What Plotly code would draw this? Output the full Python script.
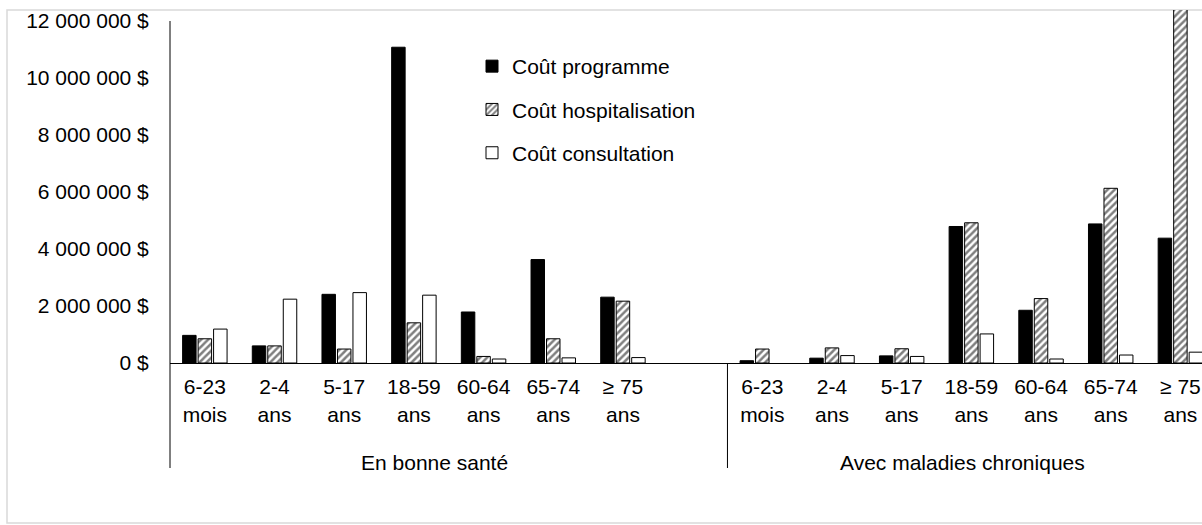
import numpy as np
import plotly.graph_objects as go

# ---- data (values in $) ----
age_labels = ["6-23<br>mois", "2-4<br>ans", "5-17<br>ans", "18-59<br>ans",
              "60-64<br>ans", "65-74<br>ans", "≥ 75<br>ans"]
groups = ["En bonne santé", "Avec maladies chroniques"]
series_names = ["Coût programme", "Coût hospitalisation", "Coût consultation"]

sante_programme = [970000, 600000, 2410000, 11080000, 1790000, 3630000, 2310000]
sante_hospit = [850000, 600000, 490000, 1410000, 230000, 850000, 2170000]
sante_consult = [1190000, 2240000, 2470000, 2380000, 140000, 180000, 190000]

chron_programme = [80000, 170000, 250000, 4790000, 1850000, 4880000, 4380000]
chron_hospit = [490000, 530000, 500000, 4920000, 2260000, 6130000, 13500000]
chron_consult = [None, 260000, 230000, 1020000, 140000, 280000, 380000]

y_ticks = [0, 2000000, 4000000, 6000000, 8000000, 10000000, 12000000]

# ---- layout constants ----
W, H = 1202, 525
ML, MR, MT, MB = 170, 0, 10, 162
PW, PH = W - ML - MR, H - MT - MB
YMAX = 12386000
XR = [-0.5, 14.31]
FONT = "Liberation Sans, Arial, Helvetica, sans-serif"
FS = 21

n = len(age_labels)
x_left = np.arange(n)
x_right = np.arange(n) + n + 1
x_all = np.concatenate([x_left, x_right])

vals = [
    sante_programme + chron_programme,
    sante_hospit + chron_hospit,
    sante_consult + chron_consult,
]

styles = [
    dict(color="black", line=dict(color="black", width=1)),
    dict(color="white", line=dict(color="black", width=1),
         pattern=dict(shape="/", fgcolor="black", bgcolor="white", size=5, solidity=0.5)),
    dict(color="white", line=dict(color="black", width=1)),
]

fig = go.Figure()
for i, (name, v, st) in enumerate(zip(series_names, vals, styles)):
    fig.add_trace(go.Bar(x=x_all, y=v, name=name, marker=st, legendgroup=f"g{i}"))


def px_to_xpaper(px):
    return (px - ML) / PW


def py_to_ypaper(py):
    return (H - MB - py) / PH


def xdata_to_paper(x):
    return (x - XR[0]) / (XR[1] - XR[0])


shapes = [
    # chart-area border
    dict(type="rect", xref="paper", yref="paper",
         x0=px_to_xpaper(7), x1=1.05, y0=py_to_ypaper(523), y1=py_to_ypaper(10),
         line=dict(color="#d9d9d9", width=1.5), layer="below"),
    # y axis line (extended down as group divider)
    dict(type="line", xref="paper", yref="paper",
         x0=0, x1=0, y0=py_to_ypaper(468), y1=12000000 / YMAX,
         line=dict(color="black", width=1)),
    # divider between groups
    dict(type="line", xref="paper", yref="paper",
         x0=xdata_to_paper(n + 0.5), x1=xdata_to_paper(n + 0.5),
         y0=py_to_ypaper(468), y1=0,
         line=dict(color="black", width=1)),
]

annotations = [
    dict(text=groups[0], xref="paper", yref="paper",
         x=xdata_to_paper(3.29), y=py_to_ypaper(462), showarrow=False,
         xanchor="center", yanchor="middle", font=dict(size=FS, color="black", family=FONT)),
    dict(text=groups[1], xref="paper", yref="paper",
         x=xdata_to_paper(10.87), y=py_to_ypaper(462), showarrow=False,
         xanchor="center", yanchor="middle", font=dict(size=FS, color="black", family=FONT)),
]

fig.update_layout(
    width=W, height=H,
    margin=dict(l=ML, r=MR, t=MT, b=MB, pad=0),
    paper_bgcolor="white", plot_bgcolor="white",
    font=dict(family=FONT, size=FS, color="black"),
    barmode="group", bargap=0.333, bargroupgap=0.13,
    showlegend=True,
    legend=dict(x=px_to_xpaper(472), y=py_to_ypaper(46), xanchor="left", yanchor="top",
                bgcolor="rgba(0,0,0,0)", font=dict(size=FS, family=FONT, color="black"),
                tracegroupgap=13, itemwidth=30, traceorder="grouped"),
    shapes=shapes,
    annotations=annotations,
)

fig.update_xaxes(
    range=XR, tickmode="array", tickvals=list(x_all), ticktext=age_labels + age_labels,
    showline=True, linecolor="black", linewidth=1, showgrid=False, zeroline=False,
    ticks="outside", ticklen=5, tickcolor="rgba(0,0,0,0)",
    tickfont=dict(size=FS, family=FONT, color="black"),
)
fig.update_yaxes(
    range=[0, YMAX], tickmode="array", tickvals=y_ticks,
    ticktext=[f"{v:,.0f}".replace(",", " ") + " $" for v in y_ticks],
    showline=False, showgrid=False, zeroline=False,
    ticks="outside", ticklen=16, tickcolor="rgba(0,0,0,0)",
    tickfont=dict(size=FS, family=FONT, color="black"),
)

fig.write_html("out.html")
